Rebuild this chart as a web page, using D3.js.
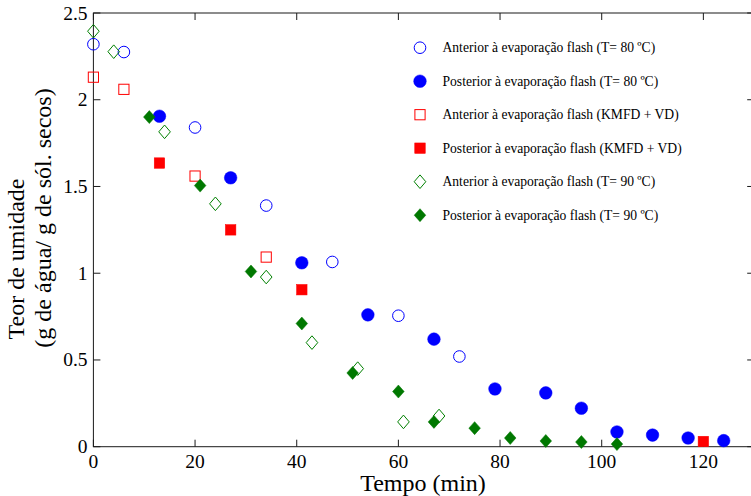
<!DOCTYPE html>
<html>
<head>
<meta charset="utf-8">
<script src="https://cdn.jsdelivr.net/npm/d3@7"></script>
<style>
  html, body { margin: 0; padding: 0; background: #fff; overflow: hidden; }
  svg { display: block; font-family: "Liberation Serif", "Times New Roman", serif; }
</style>
</head>
<body>
<svg id="chart" width="751" height="496"></svg>
<script>
// Drying time (min) and moisture content (g water / g dry solids)
const antT80X = [0, 6, 20, 34, 47, 60, 72];
const antT80Y = [2.32, 2.275, 1.84, 1.39, 1.065, 0.755, 0.52];

const posT80X = [13, 27, 41, 54, 67, 79, 89, 96, 103, 110, 117, 124];
const posT80Y = [1.905, 1.55, 1.06, 0.76, 0.62, 0.333, 0.31, 0.222, 0.085, 0.067, 0.05, 0.035];

const antKmX = [0, 6, 20, 34];
const antKmY = [2.13, 2.06, 1.56, 1.093];

const posKmX = [13, 27, 41, 120];
const posKmY = [1.635, 1.25, 0.905, 0.03];

const antT90X = [0, 4, 14, 24, 34, 43, 52, 61, 68];
const antT90Y = [2.395, 2.277, 1.815, 1.40, 0.978, 0.60, 0.45, 0.143, 0.177];

const posT90X = [11, 21, 31, 41, 51, 60, 67, 75, 82, 89, 96, 103];
const posT90Y = [1.90, 1.505, 1.01, 0.71, 0.425, 0.318, 0.143, 0.107, 0.05, 0.033, 0.027, 0.015];

const xTicks = [0, 20, 40, 60, 80, 100, 120];
const yTicks = [0, 0.5, 1, 1.5, 2, 2.5];

const seriesNames = [
  "Anterior à evaporação flash (T= 80 ºC)",
  "Posterior à evaporação flash (T= 80 ºC)",
  "Anterior à evaporação flash (KMFD + VD)",
  "Posterior à evaporação flash (KMFD + VD)",
  "Anterior à evaporação flash (T= 90 ºC)",
  "Posterior à evaporação flash (T= 90 ºC)"
];

const series = [
  { name: seriesNames[0], xs: antT80X, ys: antT80Y, shape: "circle",  color: "#0000ff", filled: false },
  { name: seriesNames[1], xs: posT80X, ys: posT80Y, shape: "circle",  color: "#0000ff", filled: true },
  { name: seriesNames[2], xs: antKmX,  ys: antKmY,  shape: "square",  color: "#ff0000", filled: false },
  { name: seriesNames[3], xs: posKmX,  ys: posKmY,  shape: "square",  color: "#ff0000", filled: true },
  { name: seriesNames[4], xs: antT90X, ys: antT90Y, shape: "diamond", color: "#008000", filled: false },
  { name: seriesNames[5], xs: posT90X, ys: posT90Y, shape: "diamond", color: "#007800", filled: true }
];

const svg = d3.select("#chart");
const W = 751, H = 496;
svg.append("rect").attr("width", W).attr("height", H).attr("fill", "#fff");

const plotL = 93.4, plotR = 754.2, plotT = 13, plotB = 446.7;
const x = d3.scaleLinear().domain([0, 130]).range([plotL, plotR]);
const y = d3.scaleLinear().domain([0, 2.5]).range([plotB, plotT]);

const axisColor = "#1a1a1a";
const tickLen = 7;

// Tick labels
svg.append("g").selectAll("text").data(xTicks).join("text")
  .attr("x", d => x(d)).attr("y", 468)
  .attr("text-anchor", "middle").attr("font-size", 19.5).attr("fill", "#000")
  .text(d => d);

svg.append("g").selectAll("text").data(yTicks).join("text")
  .attr("x", 87.5).attr("y", d => y(d) + 6.5)
  .attr("text-anchor", "end").attr("font-size", 19.5).attr("fill", "#000")
  .text(d => d);

// Axes box with inward ticks on all four sides
const axes = svg.append("g");
axes.append("rect")
  .attr("x", plotL).attr("y", plotT)
  .attr("width", plotR - plotL).attr("height", plotB - plotT)
  .attr("fill", "none").attr("stroke", axisColor).attr("stroke-width", 1);

const tickG = axes.append("g").attr("stroke", axisColor).attr("stroke-width", 1);
xTicks.forEach(t => {
  tickG.append("line").attr("x1", x(t)).attr("x2", x(t)).attr("y1", plotB).attr("y2", plotB - tickLen);
  tickG.append("line").attr("x1", x(t)).attr("x2", x(t)).attr("y1", plotT).attr("y2", plotT + tickLen);
});
yTicks.forEach(t => {
  tickG.append("line").attr("x1", plotL).attr("x2", plotL + tickLen).attr("y1", y(t)).attr("y2", y(t));
  tickG.append("line").attr("x1", plotR).attr("x2", plotR - tickLen).attr("y1", y(t)).attr("y2", y(t));
});

// Marker drawing
function drawMarker(g, shape, color, filled, cx, cy) {
  const fill = filled ? color : "none";
  const sw = filled ? 0.5 : 1;
  if (shape === "circle") {
    g.append("circle").attr("cx", cx).attr("cy", cy).attr("r", filled ? 6.3 : 5.8)
      .attr("fill", fill).attr("stroke", color).attr("stroke-width", sw);
  } else if (shape === "square") {
    const s = filled ? 10.5 : 10.2;
    g.append("rect").attr("x", cx - s / 2).attr("y", cy - s / 2).attr("width", s).attr("height", s)
      .attr("fill", fill).attr("stroke", color).attr("stroke-width", sw);
  } else {
    const hw = 5.8, hh = filled ? 6.5 : 6.8;
    g.append("path")
      .attr("d", `M${cx},${cy - hh}L${cx + hw},${cy}L${cx},${cy + hh}L${cx - hw},${cy}Z`)
      .attr("fill", fill).attr("stroke", color).attr("stroke-width", sw);
  }
}

const marks = svg.append("g");
series.forEach(s => {
  const g = marks.append("g");
  s.xs.forEach((xv, i) => drawMarker(g, s.shape, s.color, s.filled, x(xv), y(s.ys[i])));
});

// Legend
const legend = svg.append("g");
const legY0 = 47.7, legDy = 33.5;
series.forEach((s, i) => {
  const cy = legY0 + i * legDy;
  drawMarker(legend, s.shape, s.color, s.filled, 420, cy);
  legend.append("text").attr("x", 442.5).attr("y", cy + 4.6)
    .attr("font-size", 13.6).attr("fill", "#000").text(s.name);
});

// Axis titles
svg.append("text").attr("x", 423).attr("y", 491)
  .attr("text-anchor", "middle").attr("font-size", 24).attr("fill", "#000")
  .text("Tempo (min)");

svg.append("text")
  .attr("transform", "translate(24,259) rotate(-90)")
  .attr("text-anchor", "middle").attr("font-size", 24).attr("fill", "#000")
  .text("Teor de umidade");

svg.append("text")
  .attr("transform", "translate(51,218) rotate(-90)")
  .attr("text-anchor", "middle").attr("font-size", 24).attr("fill", "#000")
  .text("(g de água/ g de sól. secos)");
</script>
</body>
</html>
